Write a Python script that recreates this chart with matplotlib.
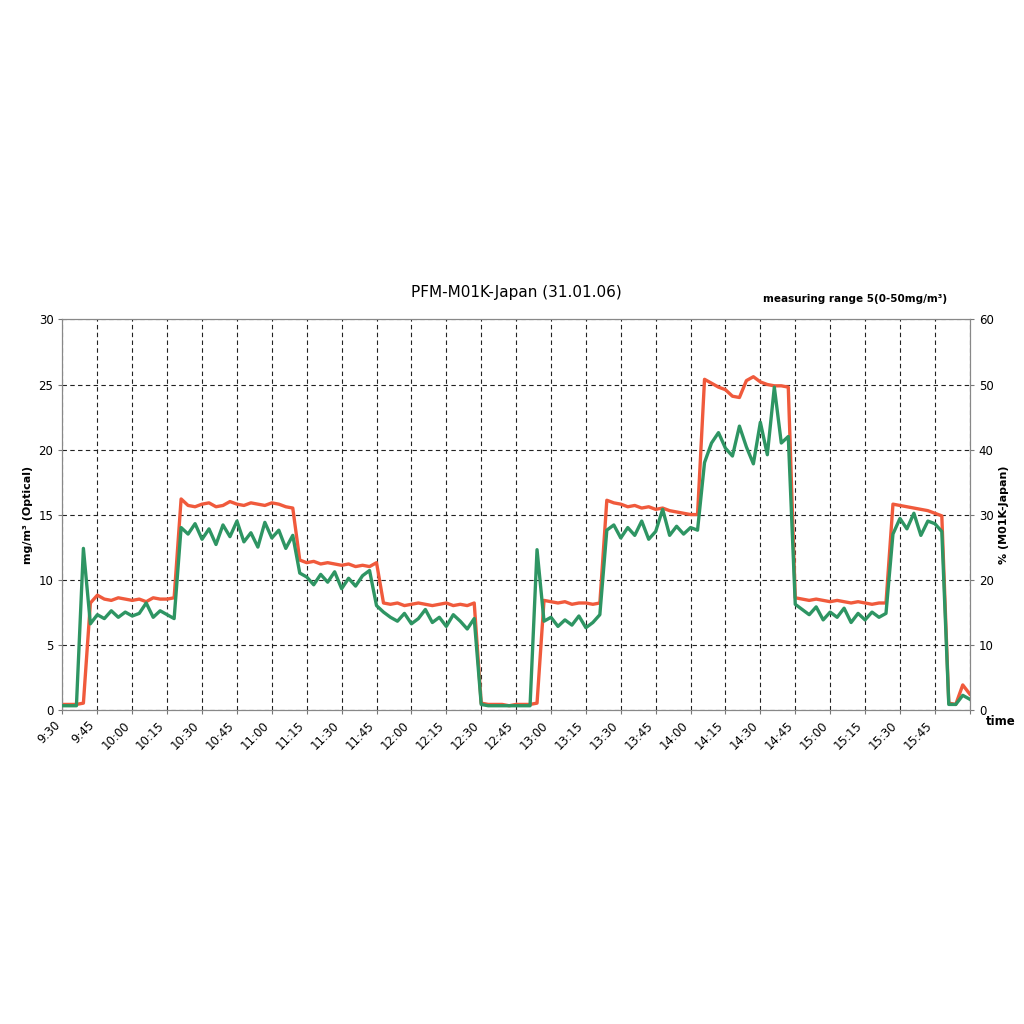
import matplotlib.pyplot as plt
import numpy as np

# minutes after 9:30, sampled every 3 minutes
minutes = np.arange(0, 391, 3)

optical_mg = [
    0.4, 0.4, 0.4, 0.5,
    8.2, 8.8, 8.5, 8.4, 8.6, 8.5, 8.4, 8.5, 8.3, 8.6, 8.5, 8.5, 8.6,
    16.2, 15.7, 15.6, 15.8, 15.9, 15.6, 15.7, 16.0, 15.8, 15.7, 15.9, 15.8, 15.7, 15.9, 15.8, 15.6, 15.5,
    11.5, 11.3, 11.4, 11.2, 11.3, 11.2, 11.1, 11.2, 11.0, 11.1, 11.0, 11.3,
    8.2, 8.1, 8.2, 8.0, 8.1, 8.2, 8.1, 8.0, 8.1, 8.2, 8.0, 8.1, 8.0, 8.2,
    0.5, 0.4, 0.4, 0.4, 0.3, 0.4, 0.4, 0.4, 0.5,
    8.4, 8.3, 8.2, 8.3, 8.1, 8.2, 8.2, 8.1, 8.2,
    16.1, 15.9, 15.8, 15.6, 15.7, 15.5, 15.6, 15.4, 15.5, 15.3, 15.2, 15.1, 15.0, 15.0,
    25.4, 25.1, 24.8, 24.6, 24.1, 24.0, 25.3, 25.6, 25.2, 25.0, 24.9, 24.9, 24.8,
    8.6, 8.5, 8.4, 8.5, 8.4, 8.3, 8.4, 8.3, 8.2, 8.3, 8.2, 8.1, 8.2, 8.2,
    15.8, 15.7, 15.6, 15.5, 15.4, 15.3, 15.1, 14.9,
    0.5, 0.4, 1.9, 1.2,
]

m01k_pct = [
    0.6, 0.6, 0.6, 24.8,
    13.2, 14.6, 14.0, 15.2, 14.2, 15.0, 14.4, 14.8, 16.4, 14.2, 15.2, 14.6, 14.0,
    28.0, 27.0, 28.6, 26.2, 27.8, 25.4, 28.4, 26.6, 29.0, 25.8, 27.2, 25.0, 28.8, 26.4, 27.6, 24.8, 26.8,
    21.0, 20.4, 19.2, 20.8, 19.6, 21.2, 18.6, 20.2, 19.0, 20.6, 21.4, 16.0,
    15.0, 14.2, 13.6, 14.8, 13.2, 14.0, 15.4, 13.4, 14.2, 12.8, 14.6, 13.6, 12.4, 14.0,
    0.8, 0.6, 0.6, 0.6, 0.6, 0.6, 0.6, 0.6, 24.6,
    13.6, 14.2, 12.8, 13.8, 13.0, 14.4, 12.6, 13.4, 14.6,
    27.6, 28.4, 26.4, 28.0, 26.8, 29.0, 26.2, 27.4, 30.8, 26.8, 28.2, 27.0, 28.0, 27.6,
    38.0, 41.0, 42.6, 40.2, 39.0, 43.6, 40.4, 37.8, 44.2, 39.2, 49.6, 41.0, 42.0,
    16.2, 15.4, 14.6, 15.8, 13.8, 15.0, 14.2, 15.6, 13.4, 14.8, 13.8, 15.0, 14.2, 14.8,
    27.0, 29.4, 27.8, 30.2, 26.8, 29.0, 28.6, 27.4,
    0.8, 0.8, 2.2, 1.6,
]

tick_minutes = list(range(0, 376, 15))
tick_labels = [f"{(570 + m) // 60}:{(570 + m) % 60:02d}" for m in tick_minutes]

fig = plt.figure(figsize=(10.24, 10.24), dpi=100)
ax = fig.add_axes([0.061, 0.307, 0.886, 0.381])
ax2 = ax.twinx()

ax.plot(minutes, optical_mg, color="#f05a3c", linewidth=2.4, zorder=3)
ax2.plot(minutes, m01k_pct, color="#2e9563", linewidth=2.4, zorder=4)

ax.set_xlim(0, 390)
ax.set_ylim(0, 30)
ax2.set_ylim(0, 60)
ax.set_yticks(range(0, 31, 5))
ax2.set_yticks(range(0, 61, 10))
ax.set_xticks(range(0, 391, 15))
ax.set_xticklabels(tick_labels + [""], rotation=45, ha="right", fontsize=7.5)
ax.tick_params(labelsize=8.5, length=3, color="#777777")
ax2.tick_params(labelsize=8.5, length=3, color="#777777")
for a in (ax, ax2):
    for s in a.spines.values():
        s.set_color("#888888")
ax.grid(True, color="#222222", linestyle=(0, (4, 3)), linewidth=0.8)
ax.set_axisbelow(True)

ax.set_ylabel("mg/m³ (Optical)", fontsize=8, fontweight="bold")
ax2.set_ylabel("% (M01K-Japan)", fontsize=8, fontweight="bold")
ax.set_title("PFM-M01K-Japan (31.01.06)", fontsize=11, pad=16)
fig.text(0.925, 0.705, "measuring range 5(0-50mg/m³)", fontsize=7.5,
         ha="right", fontweight="bold")
fig.text(0.963, 0.292, "time", fontsize=8.5, fontweight="bold")

fig.savefig("out.png")
